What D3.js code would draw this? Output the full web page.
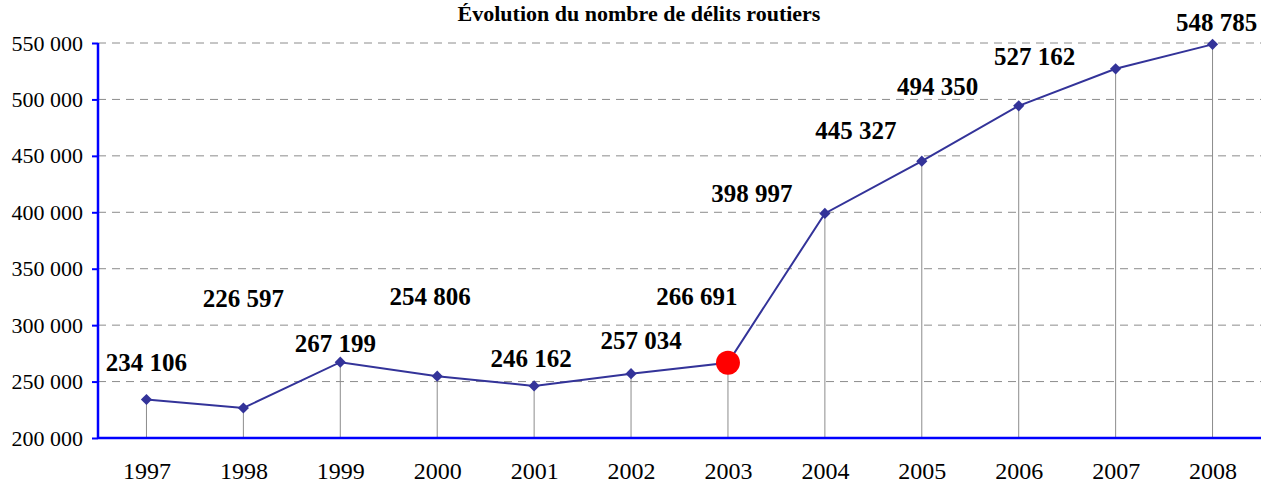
<!DOCTYPE html>
<html>
<head>
<meta charset="utf-8">
<script src="https://cdn.jsdelivr.net/npm/d3@7"></script>
<style>
  body { margin: 0; background: #fff; }
  svg { display: block; }
</style>
</head>
<body>
<div id="chart"></div>
<script>
// data
var years = ["1997", "1998", "1999", "2000", "2001", "2002", "2003", "2004", "2005", "2006", "2007", "2008"];
var delits = [234106, 226597, 267199, 254806, 246162, 257034, 266691, 398997, 445327, 494350, 527162, 548785];
var yTicks = [200000, 250000, 300000, 350000, 400000, 450000, 500000, 550000];
var highlightYear = "2003";
// label offsets (the source places labels loosely around the points)
var labelDx = [0, 0, -5, -7, -3, 10, -31, -73, -66, -81, -81, 4];
var labelDy = [-37, -109, -19, -80, -27, -33, -66, -20, -31, -19, -12, -22];

var W = 1262, H = 486;
var margin = {left: 98, right: 1, top: 43, bottom: 48};
var width = W - margin.left - margin.right;
var height = H - margin.top - margin.bottom;

var svg = d3.select("#chart").append("svg")
  .attr("width", W)
  .attr("height", H);

// title
svg.append("text")
  .attr("x", 639)
  .attr("y", 21)
  .attr("text-anchor", "middle")
  .attr("font-family", "'Liberation Serif', 'Times New Roman', serif")
  .attr("font-weight", "bold")
  .attr("font-size", "22px")
  .text("Évolution du nombre de délits routiers");

var g = svg.append("g")
  .attr("transform", "translate(" + margin.left + "," + margin.top + ")");

var x = d3.scalePoint().domain(years).range([0, width]).padding(0.5);
var y = d3.scaleLinear().domain([200000, 550000]).range([height, 0]);

var fmt = function(v) { return d3.format(",")(v).replace(/,/g, " "); };

// dashed horizontal grid
g.selectAll(".grid")
  .data(yTicks.slice(1))
  .enter().append("line")
  .attr("x1", 0).attr("x2", width)
  .attr("y1", function(d) { return y(d); })
  .attr("y2", function(d) { return y(d); })
  .attr("stroke", "#8c8c8c")
  .attr("stroke-width", 1)
  .attr("stroke-dasharray", "8,6");

// drop lines
g.selectAll(".drop")
  .data(delits)
  .enter().append("line")
  .attr("x1", function(d, i) { return x(years[i]); })
  .attr("x2", function(d, i) { return x(years[i]); })
  .attr("y1", function(d) { return y(d); })
  .attr("y2", height)
  .attr("stroke", "#8c8c8c")
  .attr("stroke-width", 1);

// y axis
var yAxis = d3.axisLeft(y).tickValues(yTicks).tickSize(6).tickPadding(9).tickFormat(fmt);
var ya = g.append("g").call(yAxis);
ya.select(".domain").attr("stroke", "#0000ff").attr("stroke-width", 2.5).attr("d", "M0," + height + "V0");
ya.selectAll(".tick line").attr("stroke", "#0000ff").attr("stroke-width", 2);
ya.selectAll(".tick text")
  .attr("font-family", "'Liberation Serif', 'Times New Roman', serif")
  .attr("font-size", "22px")
  .attr("fill", "#000");

// x axis
var xAxis = d3.axisBottom(x).tickSize(0).tickPadding(24);
var xa = g.append("g").attr("transform", "translate(0," + height + ")").call(xAxis);
xa.select(".domain").attr("stroke", "#0000ff").attr("stroke-width", 2.5).attr("d", "M0,0H" + width);
xa.selectAll(".tick text")
  .attr("font-family", "'Liberation Serif', 'Times New Roman', serif")
  .attr("font-size", "24px")
  .attr("fill", "#000");

// series line
var line = d3.line()
  .x(function(d, i) { return x(years[i]); })
  .y(function(d) { return y(d); });

g.append("path")
  .datum(delits)
  .attr("d", line)
  .attr("fill", "none")
  .attr("stroke", "#333399")
  .attr("stroke-width", 2);

// diamond markers
g.selectAll(".marker")
  .data(delits)
  .enter().append("path")
  .attr("d", d3.symbol().type(d3.symbolDiamond2).size(80))
  .attr("transform", function(d, i) { return "translate(" + x(years[i]) + "," + y(d) + ")"; })
  .attr("fill", "#333399");

// highlighted point
var hi = years.indexOf(highlightYear);
g.append("circle")
  .attr("cx", x(years[hi]))
  .attr("cy", y(delits[hi]))
  .attr("r", 12)
  .attr("fill", "#ff0000");

// value labels
g.selectAll(".lbl")
  .data(delits)
  .enter().append("text")
  .attr("x", function(d, i) { return x(years[i]) + labelDx[i]; })
  .attr("y", function(d, i) { return y(d) + labelDy[i]; })
  .attr("text-anchor", "middle")
  .attr("dominant-baseline", "central")
  .attr("font-family", "'Liberation Serif', 'Times New Roman', serif")
  .attr("font-weight", "bold")
  .attr("font-size", "25px")
  .attr("fill", "#000")
  .text(function(d) { return fmt(d); });
</script>
</body>
</html>
